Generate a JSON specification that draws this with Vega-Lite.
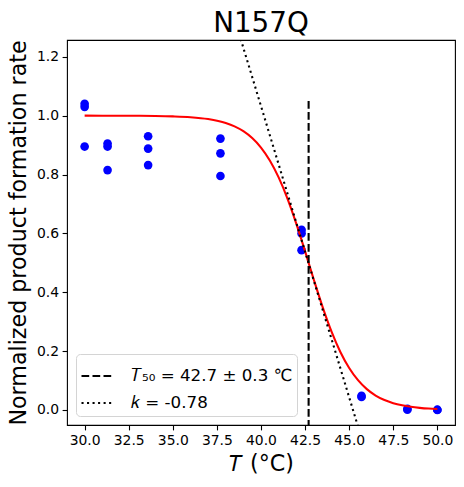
{
  "$schema": "https://vega.github.io/schema/vega-lite/v6.json",
  "autosize": "none",
  "width": 388,
  "height": 385,
  "padding": {"left": 67, "top": 40, "right": 9, "bottom": 62},
  "background": "white",
  "title": {"text": "N157Q", "font": "DejaVu Sans", "fontSize": 27.8, "fontWeight": "normal", "color": "black", "anchor": "middle", "offset": 8, "baseline": "alphabetic", "dy": 28},
  "config": {
    "view": {"stroke": "black", "strokeWidth": 1.1},
    "axis": {"grid": false, "domain": false, "tickColor": "black", "tickSize": 4.9, "tickWidth": 1.1, "labelFont": "DejaVu Sans", "labelFontSize": 13.9, "labelColor": "black", "labelPadding": 3.5, "titleFont": "DejaVu Sans", "titleFontSize": 22.2, "titleFontWeight": "normal", "titleColor": "black"}
  },
  "datasets": {
    "points": [
      {"T": 30.0, "rate": 1.04},
      {"T": 30.0, "rate": 1.03},
      {"T": 30.0, "rate": 0.895},
      {"T": 31.3, "rate": 0.905},
      {"T": 31.3, "rate": 0.895},
      {"T": 31.3, "rate": 0.815},
      {"T": 33.6, "rate": 0.93},
      {"T": 33.6, "rate": 0.888},
      {"T": 33.6, "rate": 0.832},
      {"T": 37.7, "rate": 0.922},
      {"T": 37.7, "rate": 0.872},
      {"T": 37.7, "rate": 0.795},
      {"T": 42.3, "rate": 0.612},
      {"T": 42.3, "rate": 0.6},
      {"T": 42.3, "rate": 0.543},
      {"T": 45.7, "rate": 0.048},
      {"T": 45.7, "rate": 0.044},
      {"T": 48.3, "rate": 0.004},
      {"T": 48.3, "rate": 0.001},
      {"T": 50.0, "rate": 0.001},
      {"T": 50.0, "rate": 0.0}
    ],
    "fit": [
      {"T": 30, "rate": 1.0},
      {"T": 31, "rate": 0.9999},
      {"T": 32, "rate": 0.9998},
      {"T": 33, "rate": 0.9995},
      {"T": 34, "rate": 0.9989},
      {"T": 35, "rate": 0.9975},
      {"T": 36, "rate": 0.9947},
      {"T": 37, "rate": 0.9884},
      {"T": 38, "rate": 0.9751},
      {"T": 38.5, "rate": 0.9636},
      {"T": 39, "rate": 0.9472},
      {"T": 39.5, "rate": 0.9239},
      {"T": 40, "rate": 0.8915},
      {"T": 40.5, "rate": 0.8476},
      {"T": 41, "rate": 0.7901},
      {"T": 41.5, "rate": 0.7183},
      {"T": 42, "rate": 0.6332},
      {"T": 42.5, "rate": 0.539},
      {"T": 43, "rate": 0.4418},
      {"T": 43.5, "rate": 0.3489},
      {"T": 44, "rate": 0.2662},
      {"T": 44.5, "rate": 0.1972},
      {"T": 45, "rate": 0.1426},
      {"T": 45.5, "rate": 0.1012},
      {"T": 46, "rate": 0.0708},
      {"T": 46.5, "rate": 0.0491},
      {"T": 47, "rate": 0.0338},
      {"T": 47.5, "rate": 0.0231},
      {"T": 48, "rate": 0.0158},
      {"T": 48.5, "rate": 0.0107},
      {"T": 49, "rate": 0.0073},
      {"T": 49.5, "rate": 0.0049},
      {"T": 50, "rate": 0.0034}
    ],
    "refs": [
      {"T": 42.7, "rate": -0.06, "line": "𝑇₅₀ = 42.7 ± 0.3 ℃"},
      {"T": 42.7, "rate": 1.05, "line": "𝑇₅₀ = 42.7 ± 0.3 ℃"},
      {"T": 38.85, "rate": 1.26, "line": "𝑘 = -0.78"},
      {"T": 45.52, "rate": -0.06, "line": "𝑘 = -0.78"}
    ]
  },
  "layer": [
    {
      "data": {"name": "points"},
      "mark": {"type": "point", "filled": true, "opacity": 1, "color": "#0000ff", "size": 75, "shape": "circle"},
      "encoding": {
        "x": {"field": "T", "type": "quantitative", "scale": {"domain": [29, 51], "nice": false, "zero": false},
          "axis": {"values": [30, 32.5, 35, 37.5, 40, 42.5, 45, 47.5, 50], "format": ".1f", "title": "𝑇 (°C)", "titlePadding": 5}},
        "y": {"field": "rate", "type": "quantitative", "scale": {"domain": [-0.051, 1.257], "nice": false, "zero": false},
          "axis": {"values": [0, 0.2, 0.4, 0.6, 0.8, 1.0, 1.2], "format": ".1f", "title": "Normalized product formation rate", "titlePadding": 6}}
      }
    },
    {
      "data": {"name": "fit"},
      "mark": {"type": "line", "color": "#ff0000", "strokeWidth": 2.08, "interpolate": "monotone"},
      "encoding": {
        "x": {"field": "T", "type": "quantitative"},
        "y": {"field": "rate", "type": "quantitative"}
      }
    },
    {
      "data": {"name": "refs"},
      "mark": {"type": "line", "color": "black", "strokeWidth": 2.08, "clip": true},
      "encoding": {
        "x": {"field": "T", "type": "quantitative"},
        "y": {"field": "rate", "type": "quantitative"},
        "detail": {"field": "line"},
        "strokeDash": {"field": "line", "type": "nominal",
          "scale": {"domain": ["𝑇₅₀ = 42.7 ± 0.3 ℃", "𝑘 = -0.78"], "range": [[7.7, 3.3], [2.08, 3.44]]},
          "legend": {"orient": "bottom-left", "offset": 9, "title": null, "symbolType": "stroke", "symbolSize": 1089, "symbolStrokeWidth": 2.08, "symbolStrokeColor": "black", "labelFont": "DejaVu Sans", "labelFontSize": 16.7, "labelLimit": 300, "labelColor": "black", "fillColor": "rgba(255,255,255,0.8)", "strokeColor": "#d4d4d4", "cornerRadius": 4, "padding": 4, "rowPadding": -3, "labelOffset": 15}}
      }
    }
  ]
}
